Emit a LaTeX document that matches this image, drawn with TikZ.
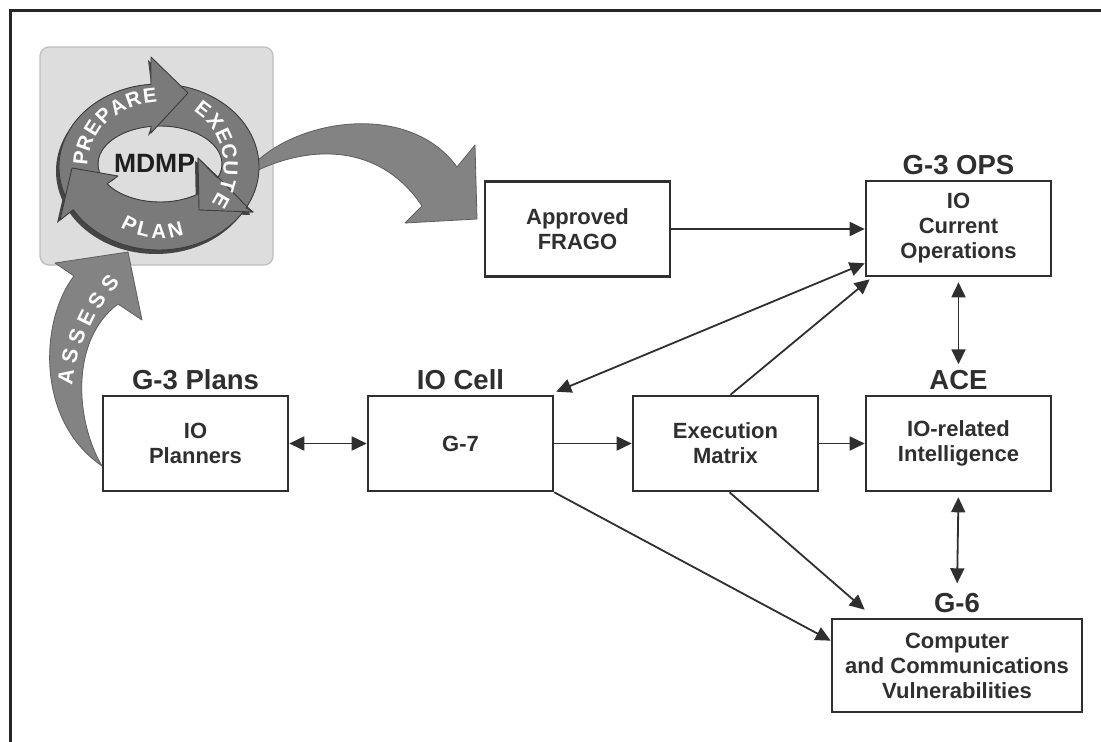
\documentclass[tikz,border=0pt]{standalone}
\usepackage{fontspec}
\setmainfont{Liberation Sans}
\usetikzlibrary{arrows.meta,calc}
\definecolor{ink}{HTML}{2F2F2F}
\definecolor{ringgray}{HTML}{7A7A7A}
\definecolor{ringedge}{HTML}{3C3C3C}
\definecolor{ringshadow}{HTML}{454545}
\definecolor{panelgray}{HTML}{DDDDDD}
\definecolor{paneledge}{HTML}{BDBDBD}
\definecolor{bigfill}{HTML}{838383}
\definecolor{bigedge}{HTML}{5E5E5E}
\newcommand\mdSegExec{($(Co)+(265.4:100 and 83)$) arc[start angle=265.4, end angle=388.5, x radius=100, y radius=83]
  -- (253,212) -- (199,210) -- (198,158)
  -- ($(Ci)+(380.5:62 and 38)$) arc[start angle=380.5, end angle=261.7, x radius=62, y radius=38] -- cycle}
\newcommand\mdSegPrep{($(Co)+(149:100 and 83)$) arc[start angle=149, end angle=265.4, x radius=100, y radius=83]
  -- (151,57) -- (188,93) -- (151,133)
  -- ($(Ci)+(261.7:62 and 38)$) arc[start angle=261.7, end angle=148.5, x radius=62, y radius=38] -- cycle}
\newcommand\mdSegPlan{($(Co)+(388.5:100 and 83)$) arc[start angle=388.5, end angle=509, x radius=100, y radius=83]
  -- (60,220) -- (72,168) -- (118,176)
  -- ($(Ci)+(508.5:62 and 38)$) arc[start angle=508.5, end angle=380.5, x radius=62, y radius=38] -- cycle}
\begin{document}
\begin{tikzpicture}[x=1pt,y=-1pt,
  box/.style={draw=ink, line width=2.6pt, fill=white, minimum width=185pt, minimum height=95pt,
    align=center, font=\fontsize{22}{25}\selectfont\bfseries, text=ink, inner sep=0pt},
  lbl/.style={font=\fontsize{27.5}{30}\selectfont\bfseries, text=ink, inner sep=0pt, anchor=base},
  conn/.style={draw=ink, line width=1.8pt, -{Triangle[length=15pt,width=14pt]}},
  conntwo/.style={draw=ink, line width=1.8pt, {Triangle[length=15pt,width=14pt]}-{Triangle[length=15pt,width=14pt]}},
  ringtxt/.style={font=\fontsize{20.5}{21}\selectfont\bfseries, text=white, inner sep=0pt},
  ringseg/.style={fill=ringgray, draw=ringedge, line width=0.9pt, line join=round},
  bigarr/.style={fill=bigfill, draw=bigedge, line width=0.8pt, line join=round},
  framestyle/.style={draw=black!85, line width=3pt}
]
\useasboundingbox (0,0) rectangle (1101,742);
\fill[white] (0,0) rectangle (1101,742);
\draw[framestyle] (1101,10) -- (10,10) -- (10,742);

% panel
\draw[fill=panelgray, draw=paneledge, line width=1.2pt, rounded corners=9pt] (40,47) rectangle (273,265);

\coordinate (Co) at (159,167);
\coordinate (Ci) at (160,164);
\coordinate (Cm) at (159.5,165.5);

% big curved arrow to FRAGO
\filldraw[bigarr] (254,164) .. controls (300,118) and (410,102) .. (457,167)
  -- (475,145) -- (477,219) -- (405,223) -- (422,206)
  .. controls (385,150) and (320,140) .. (254,172) -- cycle;

% ASSESS arrow
\filldraw[bigarr] (102,466) .. controls (35,420) and (40,320) .. (74,276)
  -- (55,263) -- (128,252) -- (142,320) -- (118,304)
  .. controls (70,340) and (75,420) .. (102,466) -- cycle;
\foreach \ch/\px/\py/\rr [count=\i] in {A/66/377/82, S/70/356/77, S/77/336/71, E/86/318/64, S/97/300/57, S/110/283/51}{
  \node[ringtxt, font=\fontsize{21.5}{22}\selectfont\bfseries, rotate=\rr] (as\i) at (\px,\py) {\ch};
}

% ring shadow
\fill[ringshadow, even odd rule] ($(Co)+(-3,4)$) ellipse[x radius=100, y radius=83]
  (Ci) ellipse[x radius=62, y radius=38];
\begin{scope}[shift={(-3,3)}]
  \fill[ringshadow] \mdSegExec;
  \fill[ringshadow] \mdSegPrep;
  \fill[ringshadow] \mdSegPlan;
\end{scope}
\filldraw[ringseg] \mdSegExec;
\filldraw[ringseg] \mdSegPrep;
\filldraw[ringseg] \mdSegPlan;
% EXECUTE head on top of PLAN tail
\filldraw[ringseg] ($(Co)+(389.5:100 and 83)$) -- (253,212) -- (199,210) -- (198,158) -- ($(Ci)+(381.5:62 and 38)$);

% ring letters
\foreach \ch/\ang [count=\i] in {P/186,R/199,E/212,P/225,A/238,R/250.5,E/263}{
  \pgfmathsetmacro\rot{-\ang-90}
  \node[ringtxt, rotate=\rot] (pr\i) at ($(Cm)+(\ang:79 and 70)$) {\ch};
}
\foreach \ch/\ang [count=\i] in {E/-52,X/-38.4,E/-24.8,C/-11.2,U/2.4,T/16,E/29.6}{
  \pgfmathsetmacro\rot{-\ang-90}
  \node[ringtxt, rotate=\rot] (ex\i) at ($(Cm)+(\ang:71)$) {\ch};
}
\foreach \ch/\ang [count=\i] in {P/117,L/104,A/90.5,N/76}{
  \pgfmathsetmacro\rot{90-\ang}
  \node[ringtxt, rotate=\rot] (pl\i) at ($(Cm)+(\ang:66)$) {\ch};
}
\node[font=\fontsize{26.5}{27}\selectfont\bfseries, text=black!88, inner sep=0pt] (mdmp) at (154.5,163) {MDMP};

% boxes
\node[box] (planners) at (195.5,443.5) {IO\\Planners};
\node[box] (g7) at (460.5,443.5) {G-7};
\node[box] (exec) at (725.5,443.5) {Execution\\Matrix};
\node[box] (iorel) at (958.5,443.5) {IO-related\\Intelligence};
\node[box] (ops) at (958.5,228.5) {IO\\Current\\Operations};
\node[box] (frago) at (577.5,229) {Approved\\FRAGO};
\node[box, minimum width=250pt, minimum height=93pt] (g6) at (957,665.5) {Computer\\and Communications\\Vulnerabilities};

% labels
\node[lbl] (lplans) at ($(planners.north)+(0,-5)$) {G-3 Plans};
\node[lbl] (lcell) at ($(g7.north)+(0,-5)$) {IO Cell};
\node[lbl] (lace) at ($(iorel.north)+(0,-5)$) {ACE};
\node[lbl] (lops) at ($(ops.north)+(0,-5)$) {G-3 OPS};
\node[lbl] (lg6) at ($(g6.north)+(0,-5)$) {G-6};

% connectors
\draw[conntwo] (planners) -- (g7);
\draw[conn] (g7) -- (exec);
\draw[conn] (exec) -- (iorel);
\draw[conn] (frago.east) -- (frago.east -| ops.west);
\draw[conntwo, shorten <=5pt, shorten >=6pt] (ops.south) -- (lace.north);
\draw[conntwo, shorten <=5pt, shorten >=10pt] (iorel.south) -- (lg6.north);
\draw[conntwo] ($(ops.south west)+(0,-14)$) -- ($(g7.north east)+(2,-3)$);
\draw[conn] ($(exec.north)+(5,0)$) -- ($(ops.south west)+(5,2)$);
\draw[conn] (g7.south east) -- ($(g6.north west)+(0,23)$);
\draw[conn] ($(exec.south)+(4,0)$) -- ($(g6.north west)+(34,-8)$);
\end{tikzpicture}
\end{document}
